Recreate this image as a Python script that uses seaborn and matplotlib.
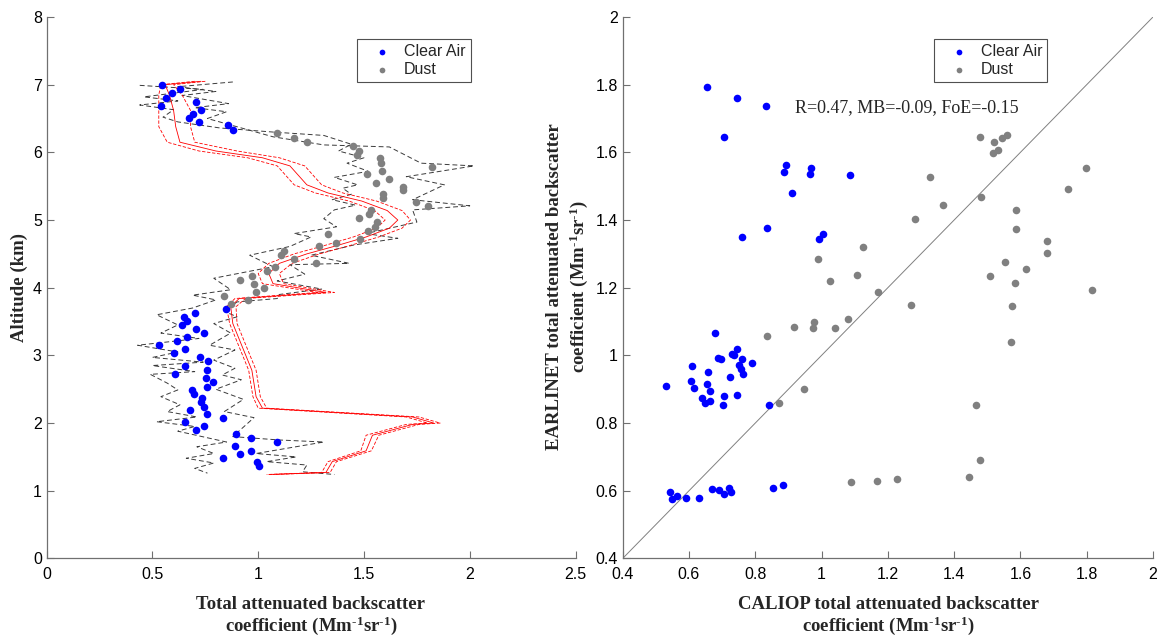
import matplotlib
matplotlib.use('Agg')
import matplotlib.pyplot as plt
import seaborn as sns

# ---------------- left panel: vertical profiles ----------------
# clear air points (x = backscatter, alt = km)
clear_left_x = [0.547, 0.632, 0.594, 0.566, 0.708, 0.542, 0.728, 0.693, 0.673, 0.718, 0.856, 0.882,
                0.846, 0.701, 0.649, 0.662, 0.641, 0.706, 0.745, 0.663, 0.615, 0.531, 0.654, 0.603,
                0.723, 0.763, 0.655, 0.759, 0.608, 0.752, 0.788, 0.758, 0.687, 0.695, 0.734, 0.728,
                0.744, 0.678, 0.759, 0.832, 0.655, 0.745, 0.704, 0.895, 0.967, 1.087, 0.890, 0.967,
                0.914, 0.835, 0.996, 1.005]
clear_left_alt = [6.99, 6.93, 6.87, 6.81, 6.75, 6.69, 6.63, 6.57, 6.51, 6.45, 6.40, 6.33,
                  3.69, 3.63, 3.57, 3.51, 3.45, 3.39, 3.33, 3.27, 3.21, 3.15, 3.09, 3.04,
                  2.97, 2.91, 2.84, 2.78, 2.73, 2.67, 2.61, 2.54, 2.49, 2.43, 2.37, 2.31,
                  2.24, 2.20, 2.14, 2.07, 2.02, 1.96, 1.90, 1.84, 1.78, 1.72, 1.66, 1.59,
                  1.54, 1.48, 1.42, 1.36]

# dust points
dust_left_x = [1.090, 1.169, 1.229, 1.448, 1.477, 1.466, 1.576, 1.581, 1.587, 1.820, 1.514, 1.620,
               1.557, 1.683, 1.683, 1.589, 1.589, 1.748, 1.801, 1.532, 1.522, 1.478, 1.560, 1.552,
               1.518, 1.483, 1.330, 1.368, 1.286, 1.171, 1.120, 1.108, 1.272, 1.079, 1.042, 0.972,
               0.915, 0.980, 1.027, 0.990, 0.837, 0.950, 0.870]
dust_left_alt = [6.28, 6.21, 6.15, 6.09, 6.02, 5.96, 5.91, 5.84, 5.73, 5.79, 5.68, 5.61,
                 5.55, 5.49, 5.44, 5.39, 5.32, 5.26, 5.20, 5.15, 5.09, 5.03, 4.97, 4.90,
                 4.84, 4.72, 4.79, 4.66, 4.61, 4.42, 4.54, 4.48, 4.36, 4.30, 4.24, 4.18,
                 4.12, 4.06, 4.00, 3.94, 3.88, 3.82, 3.76]

# red profiles (mean and bounds)
red_alt = [7.05, 7.00, 6.85, 6.62, 6.38, 6.15, 6.02, 5.92, 5.80, 5.66, 5.52, 5.40, 5.28,
           5.14, 5.00, 4.88, 4.75, 4.62, 4.50, 4.36, 4.21, 4.06, 3.93, 3.84, 3.72, 3.47,
           2.78, 2.39, 2.22, 2.09, 2.00, 1.98, 1.82, 1.59, 1.43, 1.27, 1.24]
red_mid = [0.73, 0.56, 0.58, 0.60, 0.61, 0.63, 0.80, 1.02, 1.15, 1.19, 1.23, 1.33, 1.49,
           1.61, 1.66, 1.62, 1.51, 1.37, 1.23, 1.10, 1.05, 1.07, 1.32, 0.91, 0.87, 0.88,
           0.97, 0.99, 1.02, 1.73, 1.83, 1.73, 1.54, 1.51, 1.35, 1.32, 1.05]
red_lo = [0.70, 0.54, 0.53, 0.53, 0.53, 0.57, 0.72, 0.95, 1.09, 1.13, 1.17, 1.27, 1.43,
          1.55, 1.60, 1.56, 1.45, 1.31, 1.17, 1.05, 1.00, 1.02, 1.28, 0.89, 0.85, 0.865,
          0.955, 0.975, 1.00, 1.70, 1.80, 1.70, 1.51, 1.485, 1.33, 1.30, 1.04]
red_hi = [0.75, 0.60, 0.64, 0.68, 0.68, 0.70, 0.90, 1.10, 1.22, 1.26, 1.30, 1.40, 1.56,
          1.68, 1.72, 1.68, 1.57, 1.43, 1.29, 1.16, 1.10, 1.12, 1.36, 0.94, 0.895, 0.90,
          0.99, 1.01, 1.04, 1.76, 1.86, 1.76, 1.57, 1.535, 1.37, 1.34, 1.07]

# black dashed envelopes
env_left_x = [0.44, 0.74, 0.46, 0.62, 0.44, 0.60, 0.55, 0.62, 0.82, 1.07, 1.31, 1.44, 1.38,
              1.50, 1.42, 1.52, 1.36, 1.47, 1.40, 1.44, 1.35, 1.46, 1.36, 1.31, 1.37, 1.17,
              1.25, 1.15, 0.96, 1.07, 0.79, 0.87, 0.69, 0.80, 0.69, 0.52, 0.62, 0.54, 0.72,
              0.43, 0.62, 0.50, 0.74, 0.50, 0.70, 0.49, 0.57, 0.62, 0.54, 0.63, 0.57, 0.71,
              0.52, 0.70, 0.62, 0.85, 0.71, 0.79, 0.66, 0.79, 0.70, 0.76]
env_left_alt = [6.99, 6.93, 6.82, 6.76, 6.70, 6.63, 6.52, 6.45, 6.36, 6.30, 6.25, 6.12, 6.02,
                5.92, 5.84, 5.72, 5.63, 5.52, 5.47, 5.38, 5.30, 5.22, 5.15, 5.02, 4.90, 4.80,
                4.75, 4.61, 4.48, 4.31, 4.14, 3.97, 3.89, 3.82, 3.70, 3.60, 3.45, 3.33, 3.25,
                3.15, 3.05, 2.97, 2.90, 2.85, 2.76, 2.72, 2.59, 2.49, 2.39, 2.27, 2.17, 2.09,
                2.02, 1.95, 1.88, 1.72, 1.65, 1.55, 1.48, 1.41, 1.33, 1.26]
env_right_x = [0.88, 0.62, 0.80, 0.64, 0.86, 0.70, 0.85, 0.76, 1.07, 1.31, 1.62, 1.77, 2.02,
               1.70, 1.88, 1.73, 2.00, 1.73, 1.75, 1.51, 1.66, 1.45, 1.25, 1.43, 1.15, 1.22,
               1.09, 1.30, 1.10, 1.09, 0.90, 0.84, 0.90, 0.79, 0.87, 0.77, 0.89, 0.79, 0.89,
               0.83, 0.92, 0.80, 0.93, 0.84, 0.98, 0.88, 1.10, 1.31, 0.99, 1.18, 1.04, 1.23,
               1.21, 1.36]
env_right_alt = [7.04, 6.97, 6.90, 6.84, 6.72, 6.66, 6.60, 6.50, 6.23, 6.11, 6.08, 5.84, 5.80,
                 5.64, 5.52, 5.30, 5.21, 5.15, 4.97, 4.80, 4.73, 4.63, 4.48, 4.36, 4.34, 4.20,
                 4.10, 3.98, 3.90, 3.84, 3.79, 3.65, 3.57, 3.47, 3.33, 3.15, 3.08, 2.93, 2.81,
                 2.71, 2.64, 2.50, 2.35, 2.17, 2.08, 1.80, 1.75, 1.72, 1.55, 1.50, 1.43, 1.38,
                 1.28, 1.24]

# ---------------- right panel: CALIOP vs EARLINET ----------------
clear_caliop = [0.656, 0.746, 0.831, 0.706, 0.894, 0.887, 0.968, 0.966, 1.086, 0.912, 0.760,
                0.836, 1.003, 0.993,
                0.678, 0.532, 0.609, 0.605, 0.614, 0.657, 0.654, 0.664, 0.638, 0.647, 0.663,
                0.688, 0.696, 0.702, 0.706, 0.723, 0.729, 0.736, 0.744, 0.744, 0.760, 0.752,
                0.756, 0.762, 0.789, 0.842,
                0.543, 0.548, 0.565, 0.592, 0.629, 0.670, 0.691, 0.706, 0.720, 0.727, 0.854,
                0.884]
clear_earlinet = [1.794, 1.762, 1.737, 1.644, 1.562, 1.541, 1.555, 1.535, 1.533, 1.481, 1.351,
                  1.378, 1.359, 1.345,
                  1.065, 0.909, 0.970, 0.924, 0.905, 0.950, 0.915, 0.895, 0.873, 0.858, 0.866,
                  0.992, 0.989, 0.854, 0.881, 0.935, 1.005, 1.002, 1.019, 0.883, 0.988, 0.973,
                  0.959, 0.944, 0.979, 0.854,
                  0.596, 0.576, 0.586, 0.578, 0.578, 0.604, 0.601, 0.591, 0.607, 0.597, 0.609,
                  0.616]
dust_caliop = [1.477, 1.519, 1.545, 1.561, 1.516, 1.533, 1.798, 1.326, 1.744, 1.481, 1.365,
               1.587, 1.283, 1.587, 1.679, 1.679, 1.126, 0.988, 1.554, 1.617, 1.509, 1.106,
               1.027, 1.583, 1.815, 1.170, 1.271, 1.575, 1.079, 0.977, 0.917, 0.973, 1.040,
               0.836, 1.573, 0.947, 0.873, 1.465, 1.479, 1.446, 1.089, 1.167, 1.227]
dust_earlinet = [1.645, 1.632, 1.641, 1.651, 1.599, 1.606, 1.555, 1.528, 1.493, 1.469, 1.444,
                 1.431, 1.404, 1.374, 1.337, 1.304, 1.320, 1.286, 1.275, 1.256, 1.234, 1.238,
                 1.221, 1.213, 1.192, 1.188, 1.148, 1.146, 1.109, 1.100, 1.083, 1.080, 1.080,
                 1.058, 1.039, 0.902, 0.858, 0.854, 0.691, 0.642, 0.625, 0.630, 0.635]

left_xticks = [0, 0.5, 1, 1.5, 2, 2.5]
left_xticklabels = ['0', '0.5', '1', '1.5', '2', '2.5']
left_yticks = [0, 1, 2, 3, 4, 5, 6, 7, 8]
left_yticklabels = ['0', '1', '2', '3', '4', '5', '6', '7', '8']
right_ticks = [0.4, 0.6, 0.8, 1.0, 1.2, 1.4, 1.6, 1.8, 2.0]
right_ticklabels = ['0.4', '0.6', '0.8', '1', '1.2', '1.4', '1.6', '1.8', '2']
stats_text = 'R=0.47, MB=-0.09, FoE=-0.15'

sns.set_style('ticks')
plt.rcParams['font.family'] = ['Liberation Sans', 'DejaVu Sans']
plt.rcParams['mathtext.default'] = 'regular'

BLUE = '#0000ff'
GRAY = '#808080'
AXC = '#707070'
serif_bold = dict(family=['Liberation Serif', 'DejaVu Serif'], weight='bold', size=13.5)
unit_line = 'coefficient (Mm$^{\u2010' + '1}$sr$^{\u2010' + '1}$)'

fig = plt.figure(figsize=(11.61, 6.39), dpi=100)
ax1 = fig.add_axes([0.0402, 0.1261, 0.4555, 0.8473])
ax2 = fig.add_axes([0.5363, 0.1260, 0.4568, 0.8474])

# left: envelopes and red profiles
for ex, ea in [(env_left_x, env_left_alt), (env_right_x, env_right_alt)]:
    sns.lineplot(x=ex, y=ea, sort=False, estimator=None, ax=ax1, color='#3a3a3a',
                 lw=0.7, linestyle=(0, (5, 3)), legend=False)
for rx, ls in [(red_lo, (0, (4, 2))), (red_hi, (0, (4, 2))), (red_mid, '-')]:
    sns.lineplot(x=rx, y=red_alt, sort=False, estimator=None, ax=ax1, color='red',
                 lw=0.6, linestyle=ls, legend=False)

sns.scatterplot(x=clear_left_x, y=clear_left_alt, ax=ax1, color=BLUE, s=30,
                linewidth=0, label='Clear Air', zorder=3)
sns.scatterplot(x=dust_left_x, y=dust_left_alt, ax=ax1, color=GRAY, s=30,
                linewidth=0, label='Dust', zorder=3)

# right: scatter comparison with 1:1 line
ax2.axline((0, 0), slope=1, color='#808080', lw=0.7)
sns.scatterplot(x=clear_caliop, y=clear_earlinet, ax=ax2, color=BLUE, s=30,
                linewidth=0, label='Clear Air', zorder=3)
sns.scatterplot(x=dust_caliop, y=dust_earlinet, ax=ax2, color=GRAY, s=30,
                linewidth=0, label='Dust', zorder=3)
ax2.text(0.92, 1.733, stats_text, ha='left', va='center',
         family=['Liberation Serif', 'DejaVu Serif'], size=13)

ax1.set_xlim(0, 2.5)
ax1.set_ylim(0, 8)
ax1.set_xticks(left_xticks)
ax1.set_xticklabels(left_xticklabels)
ax1.set_yticks(left_yticks)
ax1.set_yticklabels(left_yticklabels)
ax2.set_xlim(0.4, 2)
ax2.set_ylim(0.4, 2)
ax2.set_xticks(right_ticks)
ax2.set_xticklabels(right_ticklabels)
ax2.set_yticks(right_ticks)
ax2.set_yticklabels(right_ticklabels)

for ax in (ax1, ax2):
    ax.set_xlabel('')
    ax.set_ylabel('')
    for side in ('top', 'right'):
        ax.spines[side].set_visible(False)
    for side in ('left', 'bottom'):
        ax.spines[side].set_color(AXC)
        ax.spines[side].set_linewidth(0.9)
    ax.tick_params(direction='in', length=5, width=0.8, color=AXC, labelsize=11.5,
                   labelcolor='black')
    ax.tick_params(axis='x', pad=6)
    ax.tick_params(axis='y', pad=3.5)
    leg = ax.legend(loc='upper left', bbox_to_anchor=(0.587, 0.959), fontsize=11.5,
                    frameon=True, fancybox=False, edgecolor='#505050', framealpha=1,
                    borderpad=0.3, handlelength=2.5, handletextpad=0.15, labelspacing=0.2,
                    markerscale=0.75, borderaxespad=0)
    leg.get_frame().set_linewidth(0.8)

fig.text(19 / 1161, 1 - 287.7 / 639, 'Altitude (km)', rotation=90, ha='center',
         va='center', **serif_bold)
fig.text(568 / 1161, 1 - 287 / 639,
         'EARLINET total attenuated backscatter\n' + unit_line,
         rotation=90, ha='center', va='center', multialignment='center',
         linespacing=1.25, **serif_bold)
fig.text(311 / 1161, 1 - 616.5 / 639,
         'Total attenuated backscatter\n' + unit_line,
         ha='center', va='center', multialignment='center', linespacing=1.1, **serif_bold)
fig.text(888 / 1161, 1 - 616.5 / 639,
         'CALIOP total attenuated backscatter\n' + unit_line,
         ha='center', va='center', multialignment='center', linespacing=1.1, **serif_bold)

fig.savefig('out.png', dpi=100, facecolor='white')
